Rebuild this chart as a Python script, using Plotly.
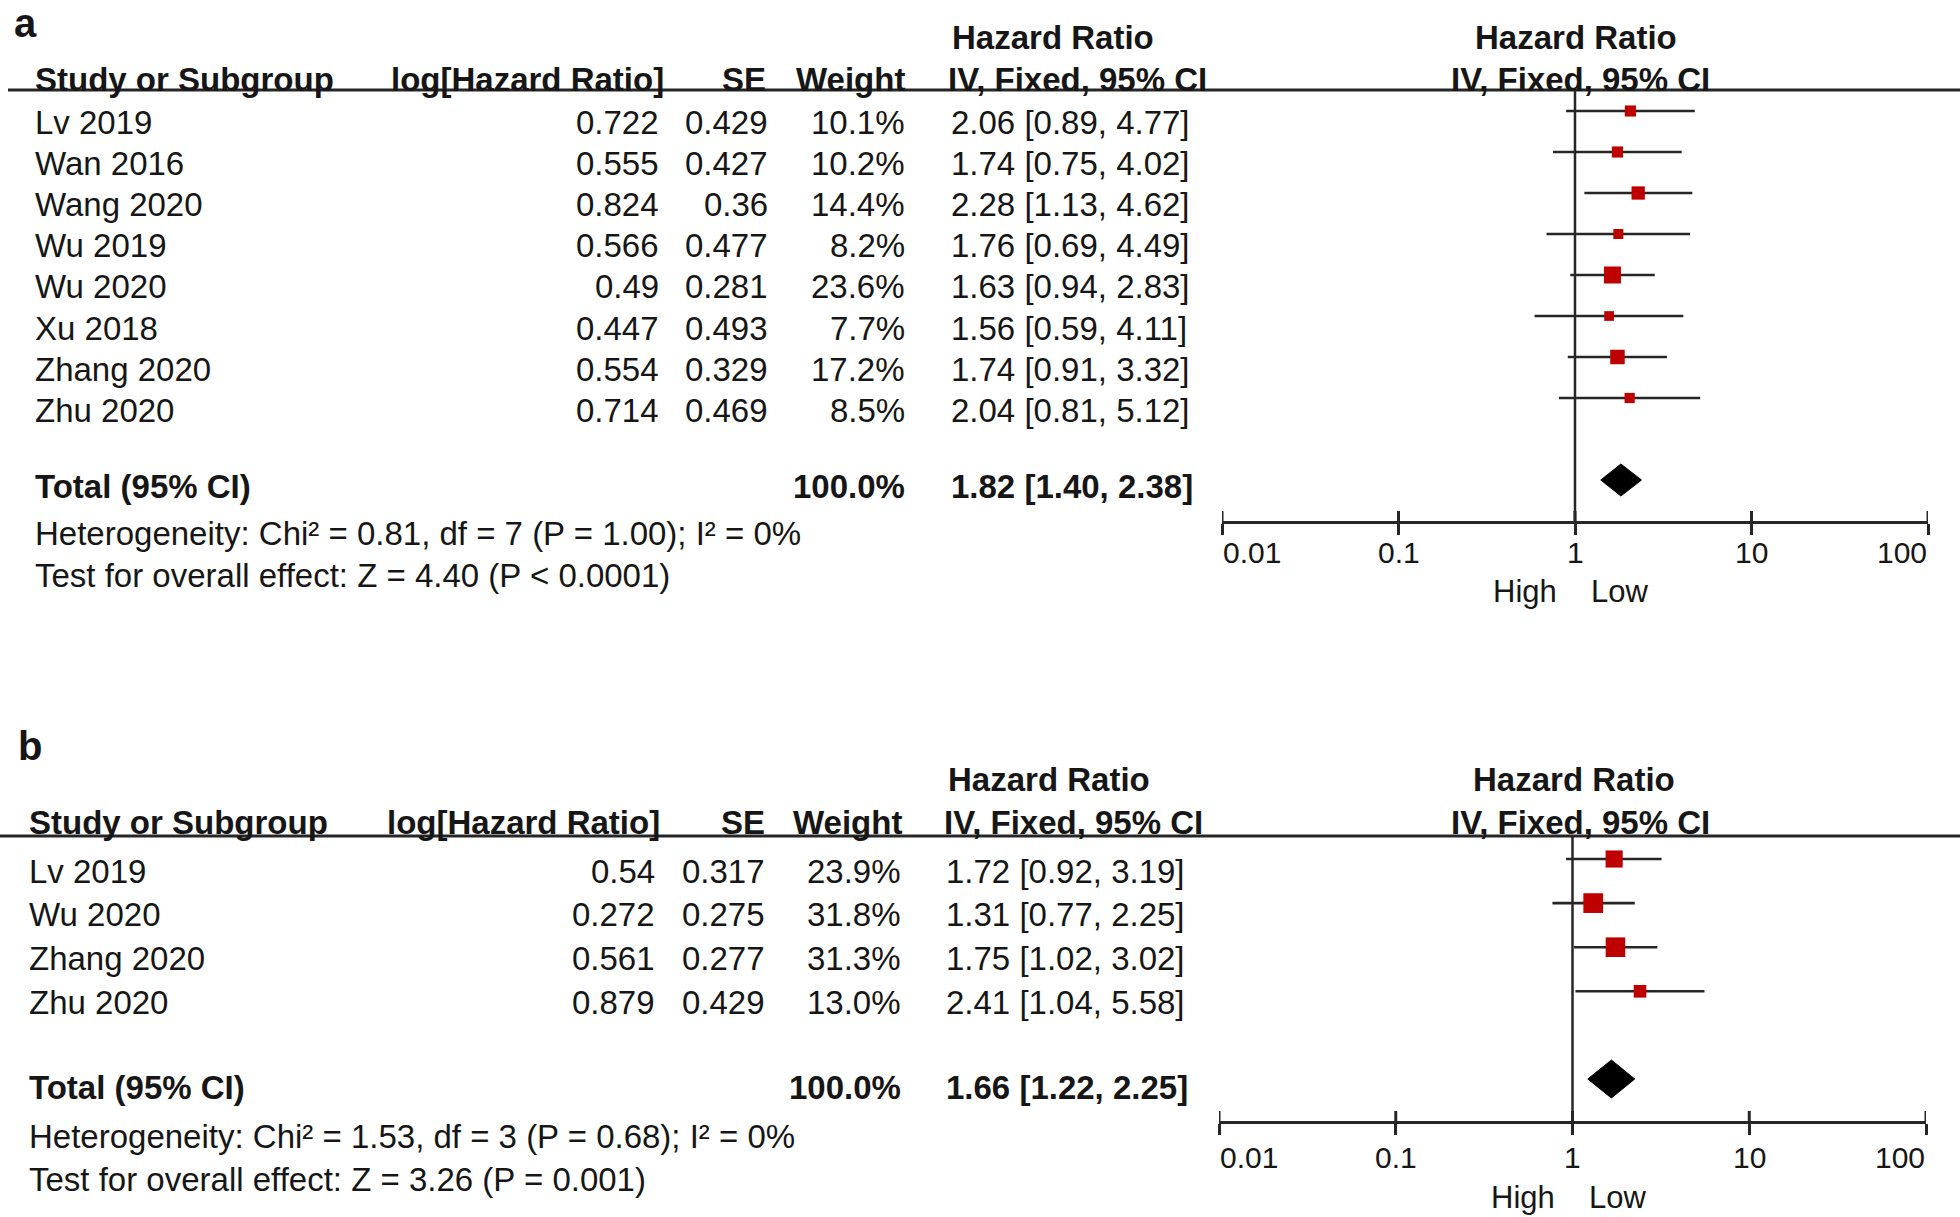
import math
import plotly.graph_objects as go

W, H = 1960, 1217

# ---------------- data: panel a ----------------
a_study = ["Lv 2019", "Wan 2016", "Wang 2020", "Wu 2019", "Wu 2020", "Xu 2018", "Zhang 2020", "Zhu 2020"]
a_loghr = ["0.722", "0.555", "0.824", "0.566", "0.49", "0.447", "0.554", "0.714"]
a_se = ["0.429", "0.427", "0.36", "0.477", "0.281", "0.493", "0.329", "0.469"]
a_weight = [10.1, 10.2, 14.4, 8.2, 23.6, 7.7, 17.2, 8.5]
a_hr = [2.06, 1.74, 2.28, 1.76, 1.63, 1.56, 1.74, 2.04]
a_lo = [0.89, 0.75, 1.13, 0.69, 0.94, 0.59, 0.91, 0.81]
a_hi = [4.77, 4.02, 4.62, 4.49, 2.83, 4.11, 3.32, 5.12]
a_total_weight = "100.0%"
a_total_hr, a_total_lo, a_total_hi = 1.82, 1.40, 2.38
a_het = "Heterogeneity: Chi² = 0.81, df = 7 (P = 1.00); I² = 0%"
a_test = "Test for overall effect: Z = 4.40 (P < 0.0001)"

# ---------------- data: panel b ----------------
b_study = ["Lv 2019", "Wu 2020", "Zhang 2020", "Zhu 2020"]
b_loghr = ["0.54", "0.272", "0.561", "0.879"]
b_se = ["0.317", "0.275", "0.277", "0.429"]
b_weight = [23.9, 31.8, 31.3, 13.0]
b_hr = [1.72, 1.31, 1.75, 2.41]
b_lo = [0.92, 0.77, 1.02, 1.04]
b_hi = [3.19, 2.25, 3.02, 5.58]
b_total_weight = "100.0%"
b_total_hr, b_total_lo, b_total_hi = 1.66, 1.22, 2.25
b_het = "Heterogeneity: Chi² = 1.53, df = 3 (P = 0.68); I² = 0%"
b_test = "Test for overall effect: Z = 3.26 (P = 0.001)"

tick_vals = [0.01, 0.1, 1, 10, 100]
tick_text = ["0.01", "0.1", "1", "10", "100"]
favours_left = "High"
favours_right = "Low"

# ---------------- styling ----------------
FONT = "Liberation Sans, Arial, sans-serif"
TXT = "#161616"
LINE = "#262626"
RED = "#bf0000"
FS = 33

fig = go.Figure()
annotations = []
shapes = []


def py(y):
    return 1 - y / H


def txt(x, y, s, anchor="left", bold=False, size=FS, xref="paper", xshift=0, yanchor="middle"):
    annotations.append(dict(
        x=(x / W) if xref == "paper" else x, y=py(y), xref=xref, yref="paper",
        text=f"<b>{s}</b>" if bold else s, showarrow=False,
        xanchor=anchor, yanchor=yanchor, xshift=xshift, borderpad=0,
        font=dict(family=FONT, size=size, color=TXT)))


def fmt_ci(h, l, u):
    return f"{h:.2f} [{l:.2f}, {u:.2f}]"


def panel(P, study, loghr, se, weight, hr, lo, hi, tw, thr, tlo, thi, het, test, xa, ya):
    # panel letter
    txt(P["lx"], P["ly"], P["letter"], bold=True, size=40, yanchor=P["lanchor"])
    # column headers
    txt(P["hr_head_x"], P["hr_head_y"], "Hazard Ratio", bold=True)
    txt(P["right_c"], P["hr_head_y"], "Hazard Ratio", anchor="center", bold=True)
    hy = P["head_y"]
    txt(P["name_x"], hy, "Study or Subgroup", bold=True)
    txt(P["h_loghr"], hy, "log[Hazard Ratio]", anchor="right", bold=True)
    txt(P["h_se"], hy, "SE", anchor="right", bold=True)
    txt(P["h_w"], hy, "Weight", anchor="right", bold=True)
    txt(P["h_ci"], hy, "IV, Fixed, 95% CI", bold=True)
    txt(P["right_c2"], hy, "IV, Fixed, 95% CI", anchor="center", bold=True)
    shapes.append(dict(type="line", xref="paper", yref="paper", x0=P["line_x0"] / W, x1=1,
                       y0=py(P["line_y"]), y1=py(P["line_y"]),
                       line=dict(color=LINE, width=3)))

    ty = [P["t0"] + P["tstep"] * i for i in range(len(study))]
    my = [P["m0"] + P["mstep"] * i for i in range(len(study))]
    for i in range(len(study)):
        txt(P["name_x"], ty[i], study[i])
        txt(P["c_loghr"], ty[i], loghr[i], anchor="right")
        txt(P["c_se"], ty[i], se[i], anchor="right")
        txt(P["c_w"], ty[i], f"{weight[i]:.1f}%", anchor="right")
        txt(P["c_ci"], ty[i], fmt_ci(hr[i], lo[i], hi[i]))
    txt(P["name_x"], P["total_y"], "Total (95% CI)", bold=True)
    txt(P["c_w"], P["total_y"], tw, anchor="right", bold=True)
    txt(P["c_ci"], P["total_y"], fmt_ci(thr, tlo, thi), bold=True)
    txt(P["name_x"], P["het_y"], het)
    txt(P["name_x"], P["test_y"], test)

    common = dict(xaxis=xa, yaxis=ya, hoverinfo="skip", showlegend=False)
    # line of no effect
    fig.add_trace(go.Scatter(x=[1, 1], y=[P["line_y"], P["axis_y"]], mode="lines",
                             line=dict(color=LINE, width=2.5), **common))
    # confidence intervals
    cx, cy = [], []
    for i in range(len(study)):
        cx += [lo[i], hi[i], None]
        cy += [my[i], my[i], None]
    fig.add_trace(go.Scatter(x=cx, y=cy, mode="lines", line=dict(color=LINE, width=2.6), **common))
    # weighted squares
    fig.add_trace(go.Scatter(x=hr, y=my, mode="markers",
                             marker=dict(symbol="square", color=RED, opacity=1,
                                         size=[3.5 * math.sqrt(w) for w in weight],
                                         line=dict(width=0)), **common))
    # pooled diamond
    d, h = P["dia_y"], P["dia_h"]
    fig.add_trace(go.Scatter(x=[tlo, thr, thi, thr, tlo], y=[d, d - h, d, d + h, d],
                             mode="lines", fill="toself", fillcolor="black",
                             line=dict(color="black", width=1), **common))
    # upper halves of the tick marks (lower halves are the axis' own ticks)
    tx, tyy = [], []
    for v in tick_vals:
        tx += [v, v, None]
        tyy += [P["axis_y"] - 10, P["axis_y"], None]
    fig.add_trace(go.Scatter(x=tx, y=tyy, mode="lines", line=dict(color=LINE, width=3), **common))
    for k, (v, s) in enumerate(zip(tick_vals, tick_text)):
        anc = "left" if k == 0 else ("right" if k == len(tick_vals) - 1 else "center")
        txt(math.log10(v), P["tick_y"], s, anchor=anc, size=30, xref=xa)
    txt(0, P["hl_y"], favours_left, anchor="right", size=31, xref=xa, xshift=-17)
    txt(0, P["hl_y"], favours_right, anchor="left", size=31, xref=xa, xshift=15)


PA = dict(letter="a", lx=13, ly=0, lanchor="top", hr_head_x=951, hr_head_y=37, right_c=1576, right_c2=1580,
          head_y=79, name_x=34, h_loghr=665, h_se=767, h_w=906, h_ci=947,
          line_x0=8, line_y=90, t0=122, tstep=41.2, m0=111, mstep=41.0,
          c_loghr=660, c_se=769, c_w=906, c_ci=950,
          total_y=487, het_y=534, test_y=575, dia_y=480, dia_h=16,
          axis_y=521, tick_y=552, hl_y=591)
PB = dict(letter="b", lx=17, ly=746, lanchor="middle", hr_head_x=947, hr_head_y=779, right_c=1574, right_c2=1580,
          head_y=822, name_x=28, h_loghr=661, h_se=766, h_w=903, h_ci=943,
          line_x0=0, line_y=836, t0=871, tstep=43.7, m0=859, mstep=44.1,
          c_loghr=656, c_se=766, c_w=902, c_ci=945,
          total_y=1087, het_y=1136, test_y=1179, dia_y=1079, dia_h=19,
          axis_y=1121, tick_y=1157, hl_y=1197)

panel(PA, a_study, a_loghr, a_se, a_weight, a_hr, a_lo, a_hi, a_total_weight,
      a_total_hr, a_total_lo, a_total_hi, a_het, a_test, "x", "y")
panel(PB, b_study, b_loghr, b_se, b_weight, b_hr, b_lo, b_hi, b_total_weight,
      b_total_hr, b_total_lo, b_total_hi, b_het, b_test, "x2", "y2")

axis_common = dict(type="log", range=[-2, 2], showgrid=False, zeroline=False,
                   ticks="outside", ticklen=11, tickwidth=3, tickcolor=LINE,
                   tickvals=tick_vals, showticklabels=False,
                   showline=True, linewidth=3, linecolor=LINE, fixedrange=True)
fig.update_layout(
    width=W, height=H, autosize=False,
    margin=dict(l=0, r=0, t=0, b=0),
    paper_bgcolor="white", plot_bgcolor="white",
    xaxis=dict(domain=[1222 / W, 1928 / W], anchor="y", **axis_common),
    xaxis2=dict(domain=[1219 / W, 1926 / W], anchor="y2", **axis_common),
    yaxis=dict(range=[PA["axis_y"], 60], domain=[py(PA["axis_y"]), py(60)],
               visible=False, fixedrange=True, anchor="x"),
    yaxis2=dict(range=[PB["axis_y"], 800], domain=[py(PB["axis_y"]), py(800)],
                visible=False, fixedrange=True, anchor="x2"),
    annotations=annotations, shapes=shapes, showlegend=False,
)

fig.write_html("out.html", config={"displayModeBar": False},
               post_script="document.body.style.margin='0px';document.body.style.overflow='hidden';")
